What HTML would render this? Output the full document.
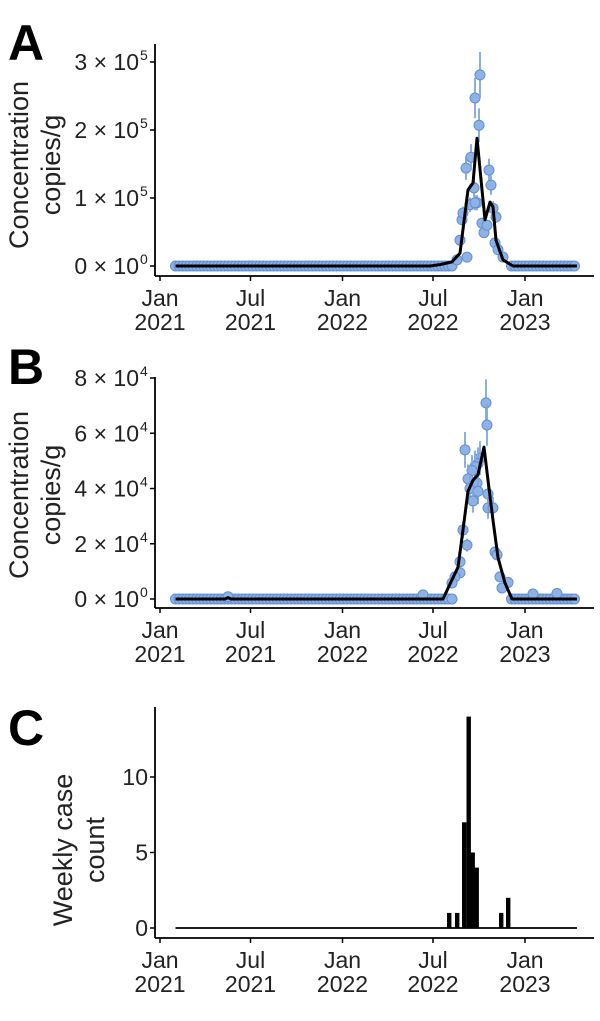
<!DOCTYPE html>
<html><head><meta charset="utf-8">
<style>
html,body{margin:0;padding:0;background:#fff;}
svg{display:block;font-family:"Liberation Sans","DejaVu Sans",sans-serif;}
</style></head>
<body>
<svg id="fig" width="600" height="1021" viewBox="0 0 600 1021" xmlns="http://www.w3.org/2000/svg"></svg>
<script>
// ---- data (days since 2021-01-01) ----
const xTickLabels = [["Jan","2021"],["Jul","2021"],["Jan","2022"],["Jul","2022"],["Jan","2023"]];
const xTickDays = [0,181,365,546,730];

// Panel A
const aTickLabels = ["0 × 10", "1 × 10", "2 × 10", "3 × 10"];
const aTickExp = ["0","5","5","5"];
const aTickValues = [0,100000,200000,300000];
const aPeakDays = [594,600,604,606,612,620,622,628,630,634,638,640,644,648,654,658,662,666,670,672,676,686,614,630];
const aPeakValues = [9000,38000,68000,78000,144000,90000,160000,115000,247000,93000,207000,281000,63000,49000,60000,141000,119000,85000,34000,72000,24000,13000,13000,93000];
const aCurveDays = [31,540,560,584,600,616,626,634,644,650,660,666,672,686,706,834];
const aCurveValues = [0,0,2000,6000,19000,112000,122000,188000,112000,68000,94000,87000,38000,9000,0,0];

// Panel B
const bTickLabels = ["0 × 10","2 × 10","4 × 10","6 × 10","8 × 10"];
const bTickExp = ["0","4","4","4","4"];
const bTickValues = [0,20000,40000,60000,80000];
const bPeakDays = [652,654,610,640,636,630,624,616,620,634,636,626,656,656,666,606,614,670,674,600,600,590,584,680,696,684,526,746,794,136];
const bPeakValues = [71000,63000,54000,51000,49000,48000,46500,43500,40000,42000,39000,35500,38000,33000,33000,25000,19500,17000,16000,13500,9500,8000,5800,8000,6000,4000,1500,1800,2000,800];
const bCurveDays = [31,130,136,142,526,566,584,596,606,616,626,636,648,656,666,676,690,704,834];
const bCurveValues = [0,0,500,0,0,0,7000,11500,25000,39000,43000,45000,55000,43000,28500,15000,5800,0,0];

// Panel C
const cTickLabels = ["0","5","10"];
const cTickValues = [0,5,10];
const cWeekDays = [574,590,604,613,621,629,678,692];
const cCounts = [1,1,7,14,5,4,1,2];

// ---- helpers ----
const NS = "http://www.w3.org/2000/svg";
const svg = document.getElementById("fig");
function mk(tag, attrs, parent, text){
  const e = document.createElementNS(NS, tag);
  for (const k in attrs) e.setAttribute(k, attrs[k]);
  if (text !== undefined) e.textContent = text;
  (parent||svg).appendChild(e);
  return e;
}
const X0 = 160, PXD = 0.5;
const xs = d => X0 + d*PXD;
const baselineDays = [];
for (let d = 31; d <= 834; d += 7) if (d < 585 || d > 700) baselineDays.push(d);

function panel(cfg){
  const g = mk("g", {}, svg);
  
  
  const ys = v => cfg.y0 - (v/cfg.vmax)*(cfg.y0 - cfg.yTop);
  const L = mk("text", {x:8, y:cfg.letterY, "font-size":50, "font-weight":"bold", fill:"#000"}, g, cfg.letter);
  
  
  const ya = mk("line", {x1:155, y1:cfg.axisTop, x2:155, y2:cfg.xAxisY, stroke:"#000", "stroke-width":1.8}, g);
  
  
  const xa = mk("line", {x1:155, y1:cfg.xAxisY, x2:594, y2:cfg.xAxisY, stroke:"#000", "stroke-width":1.8}, g);
  
  
  xTickDays.forEach((d,i)=>{
    const x = xs(d);
    mk("line",{x1:x,y1:cfg.xAxisY,x2:x,y2:cfg.xAxisY+5,stroke:"#000","stroke-width":1.5},g);
    const t = mk("text",{x:x,y:cfg.xAxisY+30,"font-size":23,"text-anchor":"middle",fill:"#222"},g);
    
    
    mk("tspan",{x:x},t,xTickLabels[i][0]);
    mk("tspan",{x:x,dy:24},t,xTickLabels[i][1]);
  });
  cfg.tickValues.forEach((v,i)=>{
    const y = ys(v);
    mk("line",{x1:150,y1:y,x2:155,y2:y,stroke:"#000","stroke-width":1.5},g);
    const t = mk("text",{x:cfg.exp?139:148,y:y+8,"font-size":23,"text-anchor":"end",fill:"#222"},g,cfg.tickLabels[i]);
    
    
    if (cfg.exp){
      const s = mk("text",{x:140,y:y-2,"font-size":14,"text-anchor":"start",fill:"#222"},g,cfg.exp[i]);
      
      
    }
  });
  const tt = mk("text",{transform:`translate(${cfg.titleX},${cfg.titleCY}) rotate(-90)`,"font-size":27,"text-anchor":"middle",fill:"#222"},g);
  
  
  cfg.title.forEach((line,i)=>{ mk("tspan",{x:0,dy:i?32:0},tt,line); });
  return {g, ys};
}

function concPanel(cfg, peakDays, peakValues, curveDays, curveValues){
  const {g, ys} = panel(cfg);
  baselineDays.forEach(d=>{
    const c = mk("circle",{cx:xs(d),cy:ys(0),r:5,fill:"#8fb1e3",stroke:"#5f8fd6","stroke-width":1},g);
    
    
  });
  peakDays.forEach((d,i)=>{
    const v = peakValues[i];
    const x = xs(d), y = ys(v);
    const err = v*0.12;
    if (err > cfg.vmax*0.02){
      const eb = mk("line",{x1:x,y1:ys(v+err),x2:x,y2:ys(Math.max(0,v-err)),stroke:"#7fa6e0","stroke-width":1.8},g);
      
      
    }
    const c = mk("circle",{cx:x,cy:y,r:5,fill:"#8fb1e3",stroke:"#5f8fd6","stroke-width":1},g);
    
    
  });
  const pts = curveDays.map((d,i)=>`${xs(d).toFixed(1)},${ys(curveValues[i]).toFixed(1)}`).join(" ");
  const pl = mk("polyline",{points:pts,fill:"none",stroke:"#000","stroke-width":3,"stroke-linejoin":"round"},g);
  
  
}

concPanel({name:"panel-a", letter:"A", letterY:60, y0:266, yTop:62, vmax:300000, axisTop:44, xAxisY:276,
  tickValues:aTickValues, tickLabels:aTickLabels, exp:aTickExp, title:["Concentration","copies/g"], titleX:28, titleCY:165},
  aPeakDays, aPeakValues, aCurveDays, aCurveValues);

concPanel({name:"panel-b", letter:"B", letterY:384, y0:599, yTop:378, vmax:80000, axisTop:377, xAxisY:608,
  tickValues:bTickValues, tickLabels:bTickLabels, exp:bTickExp, title:["Concentration","copies/g"], titleX:28, titleCY:495},
  bPeakDays, bPeakValues, bCurveDays, bCurveValues);

(function(){
  const {g, ys} = panel({name:"panel-c", letter:"C", letterY:745, y0:928, yTop:777, vmax:10, axisTop:707, xAxisY:938,
    tickValues:cTickValues, tickLabels:cTickLabels, exp:null, title:["Weekly case","count"], titleX:72, titleCY:850});
  const zl = mk("line",{x1:xs(31),y1:ys(0),x2:xs(834),y2:ys(0),stroke:"#000","stroke-width":1.8},g);
  
  
  cWeekDays.forEach((d,i)=>{
    const x = xs(d), y = ys(cCounts[i]);
    const r = mk("rect",{x:x,y:y,width:4.4,height:ys(0)-y,fill:"#000"},g);
    
    
  });
})();
</script>
</body></html>
